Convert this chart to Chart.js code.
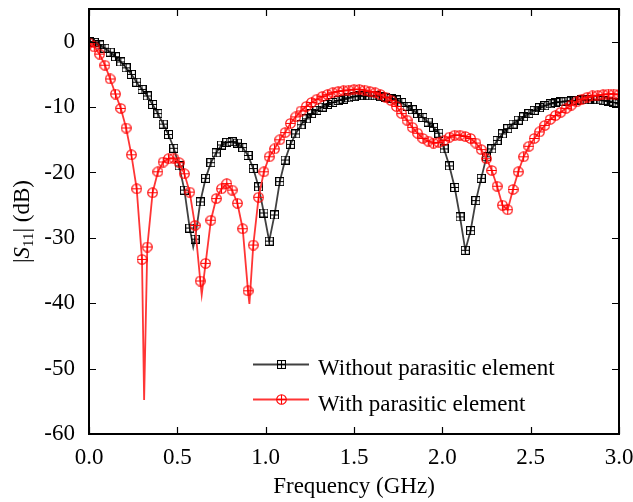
<!DOCTYPE html>
<html>
<head>
<meta charset="utf-8">
<title>|S11| vs frequency</title>
<style>
  html, body { margin: 0; padding: 0; background: #fff; }
  #wrap { width: 633px; height: 502px; }
</style>
</head>
<body>
<div id="wrap"><canvas id="chart" width="633" height="502"></canvas></div>
<script src="https://cdn.jsdelivr.net/npm/chart.js@4/dist/chart.umd.min.js"></script>
<script>
// marker frequencies, 0.03 GHz apart
const freqGHz = Array.from({ length: 101 }, (_, i) => +(i * 0.03).toFixed(2));

// |S11| in dB at each marker frequency
const s11Without = [
  0, -0.1, -0.5, -1.0, -1.6, -2.3, -3.1, -4.0, -5.0, -6.2,
  -7.3, -8.3, -9.6, -11.0, -12.6, -14.2, -16.3, -19.0, -22.7, -28.5,
  -30.2, -24.5, -20.9, -18.5, -17.0, -15.8, -15.4, -15.3, -15.5, -16.2,
  -17.4, -19.4, -22.2, -26.2, -30.5, -26.5, -21.4, -18.1, -15.7, -14.1,
  -12.7, -11.8, -11.0, -10.5, -10.0, -9.6, -9.3, -9.0, -8.8, -8.6,
  -8.4, -8.3, -8.3, -8.3, -8.3, -8.4, -8.5, -8.7, -8.9, -9.3,
  -9.9, -10.4, -11.0, -11.6, -12.3, -13.1, -14.0, -16.4, -19.0, -22.3,
  -26.8, -31.9, -28.9, -24.3, -20.9, -17.6, -16.4, -15.1, -14.1, -13.3,
  -12.6, -12.0, -11.5, -11.0, -10.5, -10.1, -9.8, -9.5, -9.3, -9.2,
  -9.1, -9.0, -9.0, -8.9, -8.9, -8.9, -8.9, -9.0, -9.1, -9.3,
  -9.5
];
const s11With = [
  -0.2, -0.8, -1.9, -3.6, -5.7, -8.0, -10.2, -13.2, -17.3, -22.5,
  -33.3, -31.4, -23.1, -19.9, -18.4, -17.9, -17.8, -18.5, -20.2, -23.0,
  -28.1, -36.6, -33.9, -27.3, -24.0, -22.5, -21.7, -22.7, -24.7, -28.6,
  -38.1, -31.1, -23.8, -19.9, -17.6, -16.4, -15.0, -13.9, -12.5, -11.5,
  -10.6, -9.9, -9.3, -8.8, -8.4, -8.1, -7.8, -7.6, -7.5, -7.4,
  -7.3, -7.3, -7.4, -7.6, -7.8, -8.1, -8.5, -9.0, -9.9, -11.0,
  -12.0, -13.1, -14.0, -14.8, -15.2, -15.5, -15.4, -15.1, -14.6, -14.3,
  -14.3, -14.5, -14.8, -15.5, -16.5, -17.9, -19.7, -22.1, -25.0, -25.7,
  -22.6, -19.9, -17.6, -16.0, -14.8, -13.8, -12.8, -11.9, -11.3, -10.8,
  -10.2, -9.7, -9.2, -8.8, -8.5, -8.3, -8.2, -8.1, -8.0, -8.0,
  -8.1
];

// resonance minima of the traces that fall between markers (line only)
const dipWithoutFreq = [0.59];
const dipWithoutVal = [-31.4];
const dipWithFreq = [0.312, 0.638, 0.908];
const dipWithVal = [-54.8, -38.7, -40.1];

const xTicks = [0, 0.5, 1.0, 1.5, 2.0, 2.5, 3.0];
const yTicks = [-60, -50, -40, -30, -20, -10, 0];
const seriesNames = ['Without parasitic element', 'With parasitic element'];

const SERIF = '"Liberation Serif", "DejaVu Serif", serif';
const BLACK_LINE = '#404040';
const RED_LINE = '#ff3535';

function marker(kind, color) {
  const s = kind === 'square' ? 9 : 11;
  const c = document.createElement('canvas');
  c.width = s; c.height = s;
  const g = c.getContext('2d');
  g.strokeStyle = color;
  g.lineWidth = 1.1;
  const m = s / 2;
  if (kind === 'square') {
    g.strokeRect(0.5, 0.5, s - 1, s - 1);
    g.beginPath();
    g.moveTo(m, 0.5); g.lineTo(m, s - 0.5);
    g.moveTo(0.5, m); g.lineTo(s - 0.5, m);
    g.stroke();
  } else {
    g.beginPath();
    g.arc(m, m, m - 0.7, 0, Math.PI * 2);
    g.moveTo(m, 0.7); g.lineTo(m, s - 0.7);
    g.moveTo(0.7, m); g.lineTo(s - 0.7, m);
    g.stroke();
  }
  return c;
}
const squarePlus = marker('square', '#000');
const circlePlus = marker('circle', '#ff0000');

function buildSeries(vals, dipF, dipV) {
  const pts = freqGHz.map((f, i) => ({ x: f, y: vals[i], dip: false }));
  dipF.forEach((f, i) => pts.push({ x: f, y: dipV[i], dip: true }));
  return pts.sort((a, b) => a.x - b.x);
}

// inward ticks on all four sides plus the frame
const framePlugin = {
  id: 'frame',
  afterDatasetsDraw(chart) {
    const { ctx, chartArea: a, scales } = chart;
    const len = 7;
    ctx.save();
    ctx.strokeStyle = '#000';
    ctx.lineWidth = 1.2;
    ctx.beginPath();
    xTicks.forEach(v => {
      const px = Math.round(scales.x.getPixelForValue(v)) + 0.5;
      ctx.moveTo(px, a.bottom); ctx.lineTo(px, a.bottom - len);
      ctx.moveTo(px, a.top); ctx.lineTo(px, a.top + len);
    });
    yTicks.forEach(v => {
      const py = Math.round(scales.y.getPixelForValue(v)) + 0.5;
      ctx.moveTo(a.left, py); ctx.lineTo(a.left + len, py);
      ctx.moveTo(a.right, py); ctx.lineTo(a.right - len, py);
    });
    ctx.stroke();
    ctx.lineWidth = 2;
    ctx.strokeRect(a.left, a.top, a.right - a.left, a.bottom - a.top);

    // y axis title |S11| (dB)
    const cy = (a.top + a.bottom) / 2;
    ctx.translate(23, cy);
    ctx.rotate(-Math.PI / 2);
    ctx.fillStyle = '#000';
    ctx.textBaseline = 'middle';
    const norm = '23px ' + SERIF, ital = 'italic 23px ' + SERIF, sub = '15px ' + SERIF;
    const parts = [['|', norm, 0], ['S', ital, 0], ['11', sub, 6], ['| (dB)', norm, 0]];
    let w = 0;
    parts.forEach(p => { ctx.font = p[1]; w += ctx.measureText(p[0]).width; });
    let x = -w / 2;
    parts.forEach(p => {
      ctx.font = p[1];
      ctx.fillText(p[0], x, p[2]);
      x += ctx.measureText(p[0]).width;
    });
    ctx.restore();

    // legend
    ctx.save();
    const rows = [
      { y: 364.5, color: BLACK_LINE, img: squarePlus, text: seriesNames[0], base: 374.5 },
      { y: 399.5, color: RED_LINE, img: circlePlus, text: seriesNames[1], base: 410.5 }
    ];
    rows.forEach(r => {
      ctx.strokeStyle = r.color;
      ctx.lineWidth = 1.8;
      ctx.beginPath();
      ctx.moveTo(253, r.y); ctx.lineTo(309, r.y);
      ctx.stroke();
      ctx.drawImage(r.img, Math.round(281 - r.img.width / 2), Math.round(r.y - r.img.height / 2));
      ctx.fillStyle = '#000';
      ctx.font = '23px ' + SERIF;
      ctx.textBaseline = 'alphabetic';
      ctx.fillText(r.text, 318, r.base);
    });
    ctx.restore();
  }
};

const tickFont = { family: SERIF, size: 23 };

new Chart(document.getElementById('chart'), {
  type: 'scatter',
  data: {
    datasets: [
      {
        label: seriesNames[1],
        data: buildSeries(s11With, dipWithFreq, dipWithVal),
        showLine: true,
        borderColor: RED_LINE,
        borderWidth: 1.8,
        tension: 0,
        pointStyle: circlePlus,
        pointRadius: c => (c.raw && c.raw.dip ? 0 : 5),
        order: 1
      },
      {
        label: seriesNames[0],
        data: buildSeries(s11Without, dipWithoutFreq, dipWithoutVal),
        showLine: true,
        borderColor: BLACK_LINE,
        borderWidth: 1.8,
        tension: 0,
        pointStyle: squarePlus,
        pointRadius: c => (c.raw && c.raw.dip ? 0 : 4),
        order: 2
      }
    ]
  },
  options: {
    responsive: false,
    animation: false,
    events: [],
    layout: { padding: { top: 9, right: 14, left: 0, bottom: 0 } },
    plugins: { legend: { display: false }, tooltip: { enabled: false } },
    scales: {
      x: {
        type: 'linear', min: 0, max: 3,
        afterBuildTicks: s => { s.ticks = xTicks.map(v => ({ value: v })); },
        afterFit: s => { s.height = 68; s.paddingLeft = 0; s.paddingRight = 0; },
        ticks: { callback: v => v.toFixed(1), font: tickFont, color: '#000', padding: 2, maxRotation: 0, autoSkip: false },
        grid: { display: false },
        border: { display: false },
        title: { display: true, text: 'Frequency (GHz)', font: tickFont, color: '#000', padding: { top: 0, bottom: 1 } }
      },
      y: {
        type: 'linear', min: -60, max: 5,
        afterBuildTicks: s => { s.ticks = yTicks.map(v => ({ value: v })); },
        afterFit: s => { s.width = 89; s.paddingTop = 0; s.paddingBottom = 0; },
        ticks: { font: tickFont, color: '#000', padding: 6 },
        grid: { display: false },
        border: { display: false }
      }
    }
  },
  plugins: [framePlugin]
});
</script>
</body>
</html>
